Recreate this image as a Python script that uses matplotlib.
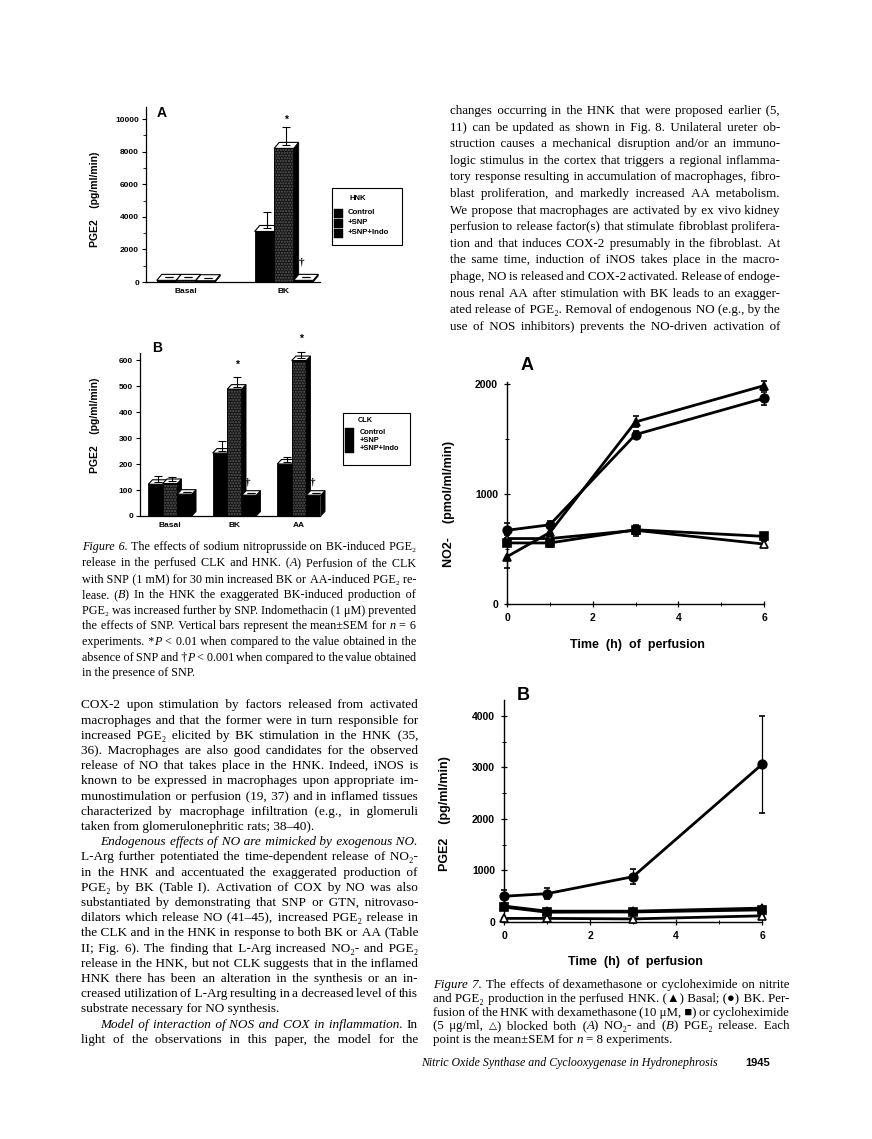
import matplotlib
matplotlib.use('Agg')
import matplotlib.pyplot as plt
from matplotlib.patches import Polygon, Rectangle
from matplotlib.font_manager import FontProperties, findfont, get_font
from matplotlib.ticker import MultipleLocator

# ---------------- DATA ----------------
# Figure 6A (HNK)
groups_A = ['Basal', 'BK']
hnk_control = [100, 3100]
hnk_control_err = [0, 1000]
hnk_snp = [100, 8200]
hnk_snp_err = [0, 1100]
hnk_indo = [80, 100]
hnk_indo_err = [0, 0]
hnk_snp_mark = ['', '*']
hnk_indo_mark = ['', '\u2020']

# Figure 6B (CLK)
groups_B = ['Basal', 'BK', 'AA']
clk_control = [122, 242, 200]
clk_control_err = [25, 38, 20]
clk_snp = [125, 488, 598]
clk_snp_err = [18, 38, 25]
clk_indo = [84, 80, 80]
clk_indo_err = [0, 0, 0]
clk_snp_mark = ['', '*', '*']
clk_indo_mark = ['', '\u2020', '\u2020']

legend_labels = ['Control', '+SNP', '+SNP+Indo']

# Figure 7 (time course)
t_hours = [0, 1, 3, 6]
no2_basal = [430, 650, 1655, 1985]
no2_basal_err = [100, 40, 50, 40]
no2_bk = [670, 720, 1540, 1870]
no2_bk_err = [70, 30, 30, 60]
no2_dex = [555, 555, 675, 615]
no2_dex_err = [30, 40, 30, 30]
no2_cyclo = [595, 595, 670, 545]
no2_cyclo_err = [30, 30, 50, 30]

pge2_bk = [500, 550, 880, 3060]
pge2_bk_err = [130, 110, 140, 940]
pge2_basal = [310, 210, 210, 270]
pge2_basal_err = [30, 25, 25, 30]
pge2_dex = [290, 190, 195, 235]
pge2_dex_err = [25, 25, 25, 25]
pge2_cyclo = [70, 70, 60, 120]
pge2_cyclo_err = [15, 15, 15, 20]

# ---------------- TEXT ----------------
right_col_lines = [
    "changes occurring in the HNK that were proposed earlier (5,",
    "11) can be updated as shown in Fig. 8. Unilateral ureter ob-",
    "struction causes a mechanical disruption and/or an immuno-",
    "logic stimulus in the cortex that triggers a regional inflamma-",
    "tory response resulting in accumulation of macrophages, fibro-",
    "blast proliferation, and markedly increased AA metabolism.",
    "We propose that macrophages are activated by ex vivo kidney",
    "perfusion to release factor(s) that stimulate fibroblast prolifera-",
    "tion and that induces COX-2 presumably in the fibroblast. At",
    "the same time, induction of iNOS takes place in the macro-",
    "phage, NO is released and COX-2 activated. Release of endoge-",
    "nous renal AA after stimulation with BK leads to an exagger-",
    "ated release of PGE\u2082. Removal of endogenous NO (e.g., by the",
    "use of NOS inhibitors) prevents the NO-driven activation of",
]

left_col_lines = [
    "COX-2 upon stimulation by factors released from activated",
    "macrophages and that the former were in turn responsible for",
    "increased PGE\u2082 elicited by BK stimulation in the HNK (35,",
    "36). Macrophages are also good candidates for the observed",
    "release of NO that takes place in the HNK. Indeed, iNOS is",
    "known to be expressed in macrophages upon appropriate im-",
    "munostimulation or perfusion (19, 37) and in inflamed tissues",
    "characterized by macrophage infiltration (e.g., in glomeruli",
    "taken from glomerulonephritic rats; 38\u201340).",
    "_Endogenous effects of NO are mimicked by exogenous NO._",
    "L-Arg further potentiated the time-dependent release of NO\u2082-",
    "in the HNK and accentuated the exaggerated production of",
    "PGE\u2082 by BK (Table I). Activation of COX by NO was also",
    "substantiated by demonstrating that SNP or GTN, nitrovaso-",
    "dilators which release NO (41\u201345), increased PGE\u2082 release in",
    "the CLK and in the HNK in response to both BK or AA (Table",
    "II; Fig. 6). The finding that L-Arg increased NO\u2082- and PGE\u2082",
    "release in the HNK, but not CLK suggests that in the inflamed",
    "HNK there has been an alteration in the synthesis or an in-",
    "creased utilization of L-Arg resulting in a decreased level of this",
    "substrate necessary for NO synthesis.",
    "_Model of interaction of NOS and COX in inflammation._ In",
    "light of the observations in this paper, the model for the",
]

fig6_caption = [
    "_Figure 6._ The effects of sodium nitroprusside on BK-induced PGE\u2082",
    "release in the perfused CLK and HNK. (_A_) Perfusion of the CLK",
    "with SNP (1 mM) for 30 min increased BK or AA-induced PGE\u2082 re-",
    "lease. (_B_) In the HNK the exaggerated BK-induced production of",
    "PGE\u2082 was increased further by SNP. Indomethacin (1 \u03bcM) prevented",
    "the effects of SNP. Vertical bars represent the mean\u00b1SEM for _n_ = 6",
    "experiments. *_P_ < 0.01 when compared to the value obtained in the",
    "absence of SNP and \u2020_P_ < 0.001 when compared to the value obtained",
    "in the presence of SNP.",
]

fig7_caption = [
    "_Figure 7._ The effects of dexamethasone or cycloheximide on nitrite",
    "and PGE\u2082 production in the perfused HNK. (\u25b2) Basal; (\u25cf) BK. Per-",
    "fusion of the HNK with dexamethasone (10 \u03bcM, \u25a0) or cycloheximide",
    "(5 \u03bcg/ml, \u25b3) blocked both (_A_) NO\u2082- and (_B_) PGE\u2082 release. Each",
    "point is the mean\u00b1SEM for _n_ = 8 experiments.",
]

footer_text = "Nitric Oxide Synthase and Cyclooxygenase in Hydronephrosis"
page_number = "1945"

# ---------------- SETUP ----------------
W, H = 872, 1139
fig = plt.figure(figsize=(W / 100, H / 100), dpi=100)
fig.patch.set_facecolor('white')
renderer = fig.canvas.get_renderer()

SANS = 'Liberation Sans'
SERIF = 'Liberation Serif'
SERIF_FB = 'DejaVu Serif'
_serif_font = get_font(findfont(FontProperties(family=SERIF)))


def covered(ch):
    return _serif_font.get_char_index(ord(ch)) != 0


HAIR = '\u200a' if covered('\u200a') else ('\u2009' if covered('\u2009') else None)


def fx(x):
    return x / W


def fy(y):
    return 1 - y / H


def sans(size, weight='bold'):
    return FontProperties(family=SANS, size=size, weight=weight)


def add_axes_px(x0, x1, ytop, ybot):
    return fig.add_axes([fx(x0), fy(ybot), (x1 - x0) / W, (ybot - ytop) / H])


def measure(s, prop):
    w, h, d = renderer.get_text_width_height_descent(s, prop, ismath=False)
    return w


def parse(line):
    words, cur, buf, ital = [], [], '', False
    for ch in line:
        if ch == '_':
            if buf:
                cur.append((buf, ital))
                buf = ''
            ital = not ital
        elif ch == ' ':
            if buf:
                cur.append((buf, ital))
                buf = ''
            if cur:
                words.append(cur)
                cur = []
        else:
            buf += ch
    if buf:
        cur.append((buf, ital))
    if cur:
        words.append(cur)
    out = []
    for wd in words:
        nw = []
        for r, it in wd:
            seg, segcov = '', None
            for ch in r:
                c = covered(ch)
                if segcov is None or c == segcov:
                    seg += ch
                    segcov = c
                else:
                    nw.append((seg, (it, segcov)))
                    seg, segcov = ch, c
            if seg:
                nw.append((seg, (it, segcov)))
        out.append(nw)
    return out


def props(size):
    return {
        (False, True): FontProperties(family=SERIF, size=size),
        (True, True): FontProperties(family=SERIF, size=size, style='italic'),
        (False, False): FontProperties(family=SERIF_FB, size=size * 0.8),
        (True, False): FontProperties(family=SERIF_FB, size=size * 0.8),
    }


def join_with_gap(stext, r, target, p, sp, hs):
    """Return stext + glue + r whose measured width is closest to target,
    or None if even one plain space is too wide."""
    if measure(stext + ' ' + r, p) > target + 0.6:
        return None
    best, best_err = None, None
    n_sp = 1
    while True:
        cand = stext + ' ' * n_sp + r
        if measure(cand, p) > target - sp * 0.5 or n_sp > 30:
            break
        n_sp += 1
    opts = []
    for ns in sorted({max(1, n_sp - 1), n_sp}):
        if hs:
            for j in range(0, int(sp / hs) + 3):
                opts.append(stext + ' ' * ns + HAIR * j + r)
        else:
            opts.append(stext + ' ' * ns + r)
    for cand in opts:
        err = abs(measure(cand, p) - target)
        if best_err is None or err < best_err:
            best, best_err = cand, err
    return best


def text_block(lines, x0, x1, base0, step, size, ragged=(), indents=(), indent_px=19):
    parsed = [parse(l) for l in lines]
    avail = x1 - x0
    for _ in range(12):
        P = props(size)
        sp = measure('a a', P[(False, True)]) - measure('aa', P[(False, True)])
        worst = 0
        for i, words in enumerate(parsed):
            tot = sum(measure(r, P[k]) for wd in words for r, k in wd)
            tot += sp * 0.8 * (len(words) - 1) + (indent_px if i in indents else 0)
            worst = max(worst, tot)
        if worst <= avail:
            break
        size *= avail / worst * 0.997
    P = props(size)
    sps = {k: measure('a a', p) - measure('aa', p) for k, p in P.items()}
    hss = {k: ((measure('a' + HAIR + 'a', p) - measure('aa', p)) if HAIR else 0)
           for k, p in P.items()}
    sp = sps[(False, True)]
    for i, words in enumerate(parsed):
        y = round(base0 + i * step)
        start = x0 + (indent_px if i in indents else 0)
        widths = [sum(measure(r, P[k]) for r, k in wd) for wd in words]
        if i in ragged or len(words) < 2:
            gap = sp
        else:
            gap = (x1 - start - sum(widths)) / (len(words) - 1)
        runs = []
        x = start
        for wi, (wd, wdt) in enumerate(zip(words, widths)):
            xx = x
            for ri, (r, k) in enumerate(wd):
                runs.append((xx, r, k, ri == 0 and wi > 0))
                xx += measure(r, P[k])
            x += wdt + gap
        segs = []
        for xr, r, k, word_start in runs:
            merged = False
            if segs and segs[-1][2] == k and k[1]:
                sx, stext, sk = segs[-1]
                if word_start:
                    target = xr - sx + measure(r, P[k])
                    new = join_with_gap(stext, r, target, P[k], sps[k], hss[k])
                else:
                    new = stext + r
                if new is not None:
                    segs[-1] = [sx, new, sk]
                    merged = True
            if not merged:
                segs.append([xr, r, k])
        for sx, stext, sk in segs:
            fig.text(fx(sx), fy(y), stext, fontproperties=P[sk], ha='left', va='baseline')


# ---------------- 3D BAR CHARTS ----------------
def bar_panel(ax, groups, series, errs, marks, w, dpx, dpy, ax_w_px, ax_h_px,
              star_off, dag_off):
    xl = ax.get_xlim()
    yl = ax.get_ylim()
    dx = dpx * (xl[1] - xl[0]) / ax_w_px
    dy = dpy * (yl[1] - yl[0]) / ax_h_px
    faces = ['black', '#141414', 'black']
    hatches = [None, '......', None]
    z = 2
    for gi in range(len(groups)):
        for si in range(len(series)):
            xc = gi + 1 + (si - 1) * w
            h = series[si][gi]
            if hatches[si]:
                ax.bar(xc, h, width=w, color=faces[si], hatch=hatches[si],
                       edgecolor='#5a5a5a', linewidth=0, zorder=z)
                ax.bar(xc, h, width=w, fill=False, edgecolor='black', linewidth=0.6, zorder=z)
            else:
                ax.bar(xc, h, width=w, color=faces[si], edgecolor='black',
                       linewidth=0.6, zorder=z)
            x0, x1 = xc - w / 2, xc + w / 2
            ax.add_patch(Polygon([(x1, 0), (x1 + dx, dy), (x1 + dx, h + dy), (x1, h)],
                                 closed=True, facecolor='black', edgecolor='black',
                                 lw=0.6, zorder=z, clip_on=False))
            ax.add_patch(Polygon([(x0, h), (x1, h), (x1 + dx, h + dy), (x0 + dx, h + dy)],
                                 closed=True, facecolor='white', edgecolor='black',
                                 lw=0.8, zorder=z + 0.1, clip_on=False))
            e = errs[si][gi]
            ax.errorbar([xc + dx / 2], [h + dy / 2], yerr=[[0], [e]], fmt='none',
                        ecolor='black', elinewidth=0.8, capsize=2.6, capthick=0.8,
                        zorder=z + 0.2, clip_on=False)
            m = marks[si][gi] if marks[si] is not None else ''
            if m == '*':
                ax.annotate(m, xy=(xc + dx / 2, h + dy / 2 + e), xytext=(0, star_off),
                            textcoords='offset points', ha='center', va='center',
                            fontproperties=sans(7.5), annotation_clip=False)
            elif m:
                ax.annotate(m, xy=(xc - 0.1 * w, h + dy), xytext=(0, dag_off),
                            textcoords='offset points', ha='center', va='bottom',
                            fontproperties=FontProperties(family=SERIF, size=8, weight='bold'),
                            annotation_clip=False)
            z += 1


def style_bar_axes(ax, groups, fs):
    for s in ['top', 'right']:
        ax.spines[s].set_visible(False)
    for s in ['left', 'bottom']:
        ax.spines[s].set_linewidth(0.9)
    ax.set_xticks(range(1, len(groups) + 1))
    ax.set_xticklabels(groups)
    ax.tick_params(axis='x', length=0, pad=4)
    ax.tick_params(axis='y', direction='out', length=3, width=0.8, pad=2)
    ax.tick_params(axis='y', which='minor', direction='out', length=2, width=0.6)
    for lab in ax.get_xticklabels() + ax.get_yticklabels():
        lab.set_fontproperties(sans(fs))


def legend_px(x0, y0, x1, y1, title, title_xy, labels, ys, sq_x, sq, txt_x, fs):
    fig.patches.append(Rectangle((fx(x0), fy(y1)), (x1 - x0) / W, (y1 - y0) / H,
                                 transform=fig.transFigure, fill=False,
                                 edgecolor='black', lw=0.8))
    fig.text(fx(title_xy[0]), fy(title_xy[1]), title, fontproperties=sans(fs),
             ha='left', va='center')
    for lab, yy in zip(labels, ys):
        fig.patches.append(Rectangle((fx(sq_x), fy(yy + sq / 2)), sq / W, sq / H,
                                     transform=fig.transFigure, facecolor='black',
                                     edgecolor='black', lw=0.3))
        fig.text(fx(txt_x), fy(yy), lab, fontproperties=sans(fs), ha='left', va='center')


# Fig 6A
axA = add_axes_px(146, 320, 107, 282)
axA.set_xlim(0.592, 2.368)
axA.set_ylim(0, 10740)
axA.yaxis.set_major_locator(MultipleLocator(2000))
axA.yaxis.set_minor_locator(MultipleLocator(1000))
bar_panel(axA, groups_A, [hnk_control, hnk_snp, hnk_indo],
          [hnk_control_err, hnk_snp_err, hnk_indo_err],
          [None, hnk_snp_mark, hnk_indo_mark], 0.199, 5, 6, 174, 175, 5.5, 6)
style_bar_axes(axA, groups_A, 6)
fig.text(fx(162), fy(113), 'A', fontproperties=sans(10), ha='center', va='center')
fig.text(fx(95), fy(199), 'PGE2    (pg/ml/min)', fontproperties=sans(7.5),
         rotation=90, ha='center', va='center')
legend_px(332, 188, 402, 245, 'HNK', (349, 199), legend_labels, [213, 223, 233],
          334, 9, 348, 5.6)

# Fig 6B
axB = add_axes_px(140, 320, 353, 516)
axB.set_xlim(0.535, 3.326)
axB.set_ylim(0, 627)
axB.yaxis.set_major_locator(MultipleLocator(100))
bar_panel(axB, groups_B, [clk_control, clk_snp, clk_indo],
          [clk_control_err, clk_snp_err, clk_indo_err],
          [None, clk_snp_mark, clk_indo_mark], 0.225, 4.3, 4.5, 180, 163, 9.0, 3)
style_bar_axes(axB, groups_B, 6)
fig.text(fx(157), fy(348), 'B', fontproperties=sans(10), ha='center', va='center')
fig.text(fx(95), fy(425), 'PGE2    (pg/ml/min)', fontproperties=sans(7.5),
         rotation=90, ha='center', va='center')
legend_px(343, 413, 410, 465, 'CLK', (358, 420), legend_labels, [432, 440.5, 449],
          345, 8.5, 360, 5.3)


# ---------------- LINE CHARTS ----------------
def line_panel(ax, t, series, errs, markers, mfcs):
    for y, e, m, f in zip(series, errs, markers, mfcs):
        ax.errorbar(t, y, yerr=e, color='black', lw=2.0, marker=m, ms=6.2,
                    mfc=f, mec='black', mew=1.2, capsize=2.4, elinewidth=0.9,
                    capthick=0.9, clip_on=False, zorder=3)
    for s in ['top', 'right']:
        ax.spines[s].set_visible(False)
    for s in ['left', 'bottom']:
        ax.spines[s].set_linewidth(1.0)
    ax.set_xlim(0, 6)
    ax.xaxis.set_major_locator(MultipleLocator(2))
    ax.xaxis.set_minor_locator(MultipleLocator(1))
    ax.tick_params(which='major', direction='inout', length=5, width=0.9, pad=4)
    ax.tick_params(which='minor', direction='inout', length=3, width=0.7)
    for lab in ax.get_xticklabels() + ax.get_yticklabels():
        lab.set_fontproperties(sans(7.5))


axC = add_axes_px(507, 764, 382, 604)
axC.set_ylim(0, 2018)
axC.yaxis.set_major_locator(MultipleLocator(1000))
axC.yaxis.set_minor_locator(MultipleLocator(500))
line_panel(axC, t_hours, [no2_cyclo, no2_dex, no2_bk, no2_basal],
           [no2_cyclo_err, no2_dex_err, no2_bk_err, no2_basal_err],
           ['^', 's', 'o', '^'], ['white', 'black', 'black', 'black'])
fig.text(fx(527), fy(366), 'A', fontproperties=sans(13), ha='center', va='center')
fig.text(fx(449), fy(504), 'NO2-    (pmol/ml/min)', fontproperties=sans(9),
         rotation=90, ha='center', va='center')
fig.text(fx(637), fy(645), 'Time  (h)  of  perfusion', fontproperties=sans(9),
         ha='center', va='center')

axD = add_axes_px(504, 762, 700, 922)
axD.set_ylim(0, 4310)
axD.yaxis.set_major_locator(MultipleLocator(1000))
axD.yaxis.set_minor_locator(MultipleLocator(500))
line_panel(axD, t_hours, [pge2_cyclo, pge2_dex, pge2_basal, pge2_bk],
           [pge2_cyclo_err, pge2_dex_err, pge2_basal_err, pge2_bk_err],
           ['^', 's', '^', 'o'], ['white', 'black', 'black', 'black'])
fig.text(fx(523), fy(695), 'B', fontproperties=sans(13), ha='center', va='center')
fig.text(fx(445), fy(814), 'PGE2    (pg/ml/min)', fontproperties=sans(9),
         rotation=90, ha='center', va='center')
fig.text(fx(635), fy(962), 'Time  (h)  of  perfusion', fontproperties=sans(9),
         ha='center', va='center')

# ---------------- TEXT BLOCKS ----------------
text_block(right_col_lines, 450, 780, 114, 16.6, 10.8)
text_block(left_col_lines, 81, 418, 708.5, 15.2, 10.8, ragged=(8, 20), indents=(9, 21))
text_block(fig6_caption, 82, 416, 550.5, 15.75, 9.6, ragged=(8,))
text_block(fig7_caption, 433, 789, 988, 13.75, 9.6, ragged=(4,))

# footer
fp = FontProperties(family=SERIF, size=9.5, style='italic')
s = 9.5 * 297 / measure(footer_text, fp)
fig.text(fx(421), fy(1066), footer_text,
         fontproperties=FontProperties(family=SERIF, size=s, style='italic'),
         ha='left', va='baseline')
fig.text(fx(745), fy(1066), page_number, fontproperties=sans(8), ha='left', va='baseline')

fig.savefig('out.png', dpi=100, facecolor='white')
